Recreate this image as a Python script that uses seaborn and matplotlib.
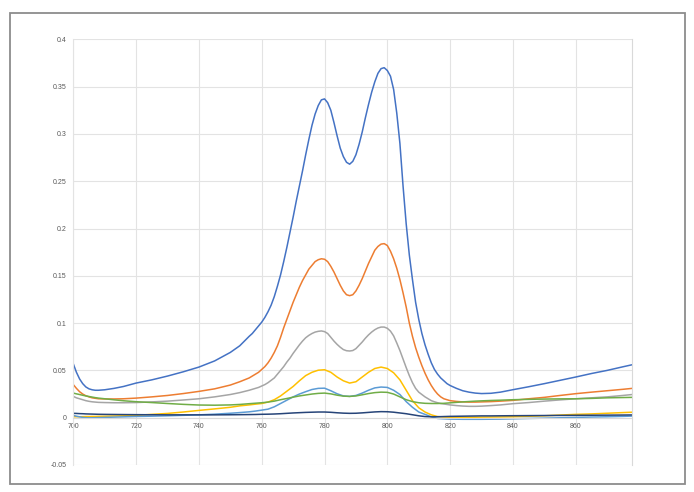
import numpy as np
import pandas as pd
import matplotlib
matplotlib.use("Agg")
import matplotlib.pyplot as plt
import seaborn as sns
from matplotlib.patches import Rectangle

# wavelength sample points (nm)
x_left = [700, 701, 702, 703, 704, 705, 706, 707, 708, 710, 713, 716, 720, 725, 730, 735, 740,
          745, 750, 753]
x_right = [822, 824, 826, 828, 830, 833, 836, 840, 845, 850, 855, 860, 865, 870, 875, 878]
x_peak_fine = [756, 757, 758, 759, 760, 761, 762, 763, 764, 765, 766, 767, 768, 769, 770, 771,
               772, 773, 774, 775, 776, 777, 778, 779, 780, 781, 782, 783, 784, 785, 786, 787,
               788, 789, 790, 791, 792, 793, 794, 795, 796, 797, 798, 799, 800, 801, 802, 803,
               804, 805, 806, 807, 808, 809, 810, 811, 812, 813, 814, 815, 816, 817, 818, 819, 820]
x_peak_coarse = [756, 758, 760, 762, 764, 766, 768, 770, 772, 774, 776, 778, 780, 782, 784, 786,
                 788, 790, 792, 794, 796, 798, 800, 802, 804, 806, 808, 810, 812, 814, 816, 818, 820]

x_fine = x_left + x_peak_fine + x_right
x_coarse = x_left + x_peak_coarse + x_right

blue = [0.057, 0.048, 0.041, 0.036, 0.0325, 0.0305, 0.0295, 0.029, 0.029, 0.0295, 0.031, 0.033,
        0.0366, 0.040, 0.044, 0.0485, 0.0535, 0.060, 0.069, 0.076,
        0.086, 0.089, 0.093, 0.097, 0.101, 0.106, 0.112, 0.119, 0.128, 0.139, 0.151, 0.165,
        0.180, 0.196, 0.212, 0.229, 0.245, 0.261, 0.278, 0.294, 0.309, 0.321, 0.330, 0.336,
        0.337, 0.333, 0.325, 0.312, 0.298, 0.285, 0.276, 0.270, 0.268, 0.271, 0.278, 0.289,
        0.302, 0.317, 0.331, 0.344, 0.355, 0.364, 0.369, 0.370, 0.367, 0.361, 0.347, 0.322,
        0.290, 0.245, 0.205, 0.172, 0.146, 0.122, 0.104, 0.089, 0.077, 0.067, 0.058, 0.051,
        0.046, 0.042, 0.039, 0.036, 0.034,
        0.031, 0.0285, 0.027, 0.026, 0.0255, 0.0258, 0.027, 0.0296, 0.0327, 0.036, 0.0395,
        0.043, 0.0467, 0.050, 0.0538, 0.056]

orange = [0.035, 0.031, 0.0275, 0.025, 0.0232, 0.022, 0.021, 0.0205, 0.020, 0.0198, 0.0198,
          0.020, 0.0207, 0.022, 0.0235, 0.0255, 0.0278, 0.0305, 0.0345, 0.038,
          0.042, 0.044, 0.046, 0.048, 0.051, 0.054, 0.058, 0.063, 0.069, 0.076, 0.085, 0.095,
          0.104, 0.113, 0.122, 0.130, 0.138, 0.145, 0.151, 0.157, 0.161, 0.165, 0.167, 0.168,
          0.1675, 0.165, 0.160, 0.154, 0.147, 0.140, 0.134, 0.130, 0.129, 0.130, 0.134, 0.140,
          0.147, 0.155, 0.163, 0.170, 0.177, 0.181, 0.1835, 0.184, 0.182, 0.176, 0.168, 0.158,
          0.146, 0.132, 0.117, 0.100, 0.086, 0.074, 0.064, 0.055, 0.047, 0.040, 0.034, 0.029,
          0.025, 0.022, 0.020, 0.019, 0.018,
          0.0172, 0.0167, 0.0165, 0.0165, 0.0167, 0.017, 0.0175, 0.0183, 0.020, 0.0215, 0.0235,
          0.0254, 0.027, 0.0285, 0.030, 0.031]

gray = [0.0225, 0.021, 0.020, 0.019, 0.018, 0.0173, 0.0168, 0.0165, 0.0162, 0.016, 0.0158,
        0.0158, 0.016, 0.0167, 0.0175, 0.0187, 0.020, 0.022, 0.0245, 0.0265,
        0.029, 0.030, 0.031, 0.032, 0.0335, 0.035, 0.037, 0.0395, 0.042, 0.046, 0.050, 0.054,
        0.0588, 0.063, 0.068, 0.0725, 0.077, 0.081, 0.0845, 0.087, 0.089, 0.0905, 0.0913, 0.0917,
        0.091, 0.089, 0.085, 0.081, 0.0775, 0.0745, 0.072, 0.0708, 0.0705, 0.071, 0.073, 0.0765,
        0.080, 0.084, 0.0875, 0.0905, 0.093, 0.0948, 0.0958, 0.0958, 0.0945, 0.0915, 0.0865,
        0.079, 0.071, 0.062, 0.053, 0.0445, 0.037, 0.031, 0.027, 0.0245, 0.022, 0.020, 0.018,
        0.0168, 0.0158, 0.015, 0.0145, 0.014, 0.0135,
        0.0128, 0.0123, 0.012, 0.012, 0.0122, 0.0128, 0.0135, 0.0148, 0.016, 0.0175, 0.0188,
        0.020, 0.021, 0.022, 0.0235, 0.0245]

yellow = [0.001, 0.001, 0.001, 0.0011, 0.0012, 0.0012, 0.0013, 0.0013, 0.0014, 0.0015, 0.0018,
          0.002, 0.0025, 0.0035, 0.0045, 0.006, 0.0077, 0.0093, 0.011, 0.0125,
          0.0135, 0.0143, 0.015, 0.0165, 0.019, 0.023, 0.028, 0.033, 0.039, 0.0445, 0.048,
          0.0502, 0.0507, 0.048, 0.043, 0.039, 0.0366, 0.038, 0.043, 0.048, 0.052, 0.0535, 0.052,
          0.0475, 0.040, 0.029, 0.018, 0.0105, 0.006, 0.003, 0.0012, 0.0007, 0.0005,
          0.0005, 0.0005, 0.0005, 0.0005, 0.0006, 0.0007, 0.0008, 0.001, 0.0015, 0.002, 0.0028,
          0.0035, 0.004, 0.0047, 0.0054, 0.0058]

light_blue = [0.0024, 0.0016, 0.0009, 0.0003, 0.0, -0.0001, -0.0001, 0.0, 0.0001, 0.0003, 0.0006,
              0.0009, 0.0013, 0.0016, 0.002, 0.0025, 0.003, 0.0037, 0.0047, 0.0054,
              0.0062, 0.007, 0.008, 0.009, 0.0115, 0.015, 0.0185, 0.022, 0.025, 0.0275, 0.0298,
              0.031, 0.0312, 0.0285, 0.0253, 0.023, 0.0225, 0.0235, 0.026, 0.029, 0.0315, 0.0324,
              0.032, 0.029, 0.0245, 0.017, 0.011, 0.006, 0.0035, 0.001, -0.0008, -0.0012, -0.0015,
              -0.0016, -0.0017, -0.0017, -0.0017, -0.0017, -0.0016, -0.0015, -0.0012, -0.0008,
              -0.0005, -0.0001, 0.0003, 0.0007, 0.001, 0.0014, 0.0017]

green = [0.026, 0.0252, 0.0245, 0.0237, 0.023, 0.0224, 0.0218, 0.0212, 0.0207, 0.020, 0.0189,
         0.0179, 0.0169, 0.016, 0.015, 0.0141, 0.0134, 0.0132, 0.0135, 0.014,
         0.0148, 0.0153, 0.0158, 0.0165, 0.0175, 0.019, 0.0203, 0.0217, 0.023, 0.024, 0.025,
         0.0257, 0.026, 0.0252, 0.0238, 0.0228, 0.0225, 0.023, 0.0242, 0.0255, 0.0265, 0.027,
         0.0268, 0.025, 0.022, 0.019, 0.017, 0.0158, 0.0152, 0.015, 0.015, 0.0152, 0.0157,
         0.0162, 0.0167, 0.0171, 0.0175, 0.0178, 0.0182, 0.0185, 0.019, 0.0194, 0.0197, 0.0199,
         0.020, 0.0204, 0.021, 0.0213, 0.0215]

navy = [0.0046, 0.0045, 0.0043, 0.0042, 0.004, 0.0039, 0.0038, 0.0037, 0.0036, 0.0035, 0.0034,
        0.0033, 0.0032, 0.0031, 0.003, 0.003, 0.003, 0.003, 0.0031, 0.0032,
        0.0033, 0.0034, 0.0036, 0.0037, 0.0039, 0.0042, 0.0046, 0.005, 0.0053, 0.0056, 0.0058,
        0.006, 0.006, 0.0057, 0.0052, 0.0048, 0.0046, 0.0047, 0.0051, 0.0056, 0.0061, 0.0064,
        0.0063, 0.0058, 0.005, 0.0042, 0.0031, 0.002, 0.0012, 0.0009, 0.001, 0.0012, 0.0014,
        0.0015, 0.0016, 0.0017, 0.0018, 0.0019, 0.0019, 0.002, 0.0021, 0.0022, 0.0023, 0.0024,
        0.0025, 0.0026, 0.0027, 0.0028, 0.0029]

series = [("1", x_fine, blue), ("2", x_fine, orange), ("3", x_fine, gray),
          ("4", x_coarse, yellow), ("5", x_coarse, light_blue), ("6", x_coarse, green),
          ("7", x_coarse, navy)]
colors = ["#4472C4", "#ED7D31", "#A5A5A5", "#FFC000", "#5B9BD5", "#70AD47", "#264478"]

df = pd.concat([pd.DataFrame({"x": xs, "y": ys, "series": name}) for name, xs, ys in series])

sns.set_style("white")
plt.rcParams["font.family"] = ["Liberation Sans", "DejaVu Sans"]

fig = plt.figure(figsize=(6.94, 4.92), dpi=100)
ax = fig.add_axes([0.1056, 0.0549, 0.9111 - 0.1056, 0.9201 - 0.0549])

sns.lineplot(data=df, x="x", y="y", hue="series", palette=colors, sort=False,
             estimator=None, linewidth=1.1, legend=False, ax=ax)

ax.set_xlim(700, 878)
ax.set_ylim(-0.05, 0.4)
ax.set_xticks([700, 720, 740, 760, 780, 800, 820, 840, 860])
ax.set_yticks(np.arange(-0.05, 0.4001, 0.05))
ax.set_yticklabels(["-0.05", "0", "0.05", "0.1", "0.15", "0.2", "0.25", "0.3", "0.35", "0.4"])
ax.grid(True, color="#E3E3E3", linewidth=0.8)
ax.set_axisbelow(True)
ax.set_xlabel("")
ax.set_ylabel("")

ax.spines["bottom"].set_position(("data", 0))
ax.spines["bottom"].set_color("#D9D9D9")
ax.spines["left"].set_color("#E3E3E3")
ax.spines["right"].set_color("#D9D9D9")
ax.spines["top"].set_visible(False)
ax.tick_params(axis="both", length=0, labelsize=5, labelcolor="#595959")
ax.tick_params(axis="x", pad=4)
ax.tick_params(axis="y", pad=5)

fig.patches.append(Rectangle((9.5 / 694, 1 - 484 / 492), (684.5 - 9.5) / 694, (484 - 12.7) / 492,
                             transform=fig.transFigure, fill=False, edgecolor="#8C8C8C",
                             linewidth=1.3))

fig.savefig("out.png", dpi=100)
